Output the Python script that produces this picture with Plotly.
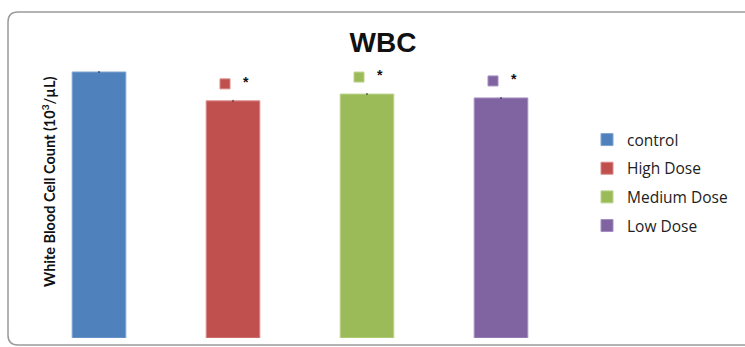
import plotly.graph_objects as go

groups = ["control", "High Dose", "Medium Dose", "Low Dose"]
wbc = [8.2, 7.31, 7.52, 7.40]
err = [0.03, 0.03, 0.03, 0.03]
significant = [False, True, True, True]
colors = ["#4F81BD", "#C0504D", "#9BBB59", "#8064A2"]
edge = ["#7FA3D1", "#D98A88", "#BCD48E", "#A58FC0"]

W, H = 745, 347
L, R, T, B = 32, 177, 60, 9
pw, ph = W - L - R, H - T - B
ymax = 8.57
ppu = ph / ymax  # pixels per unit

fig = go.Figure()
for i, (g, v) in enumerate(zip(groups, wbc)):
    fig.add_trace(go.Bar(
        x=[i], y=[v], name=g, width=0.4,
        marker=dict(color=colors[i], line=dict(color=edge[i], width=1)),
        error_y=dict(type="data", array=[err[i]], visible=True, color="#222", thickness=1, width=0),
        legendgroup=g,
    ))

# significance markers
for i, (v, s) in enumerate(zip(wbc, significant)):
    if not s:
        continue
    fig.add_trace(go.Scatter(
        x=[i - 8 / 134], y=[v + 17 / ppu], mode="markers",
        marker=dict(symbol="square", size=10, color=colors[i], line=dict(color=edge[i], width=1)),
        showlegend=False, hoverinfo="skip"))
    fig.add_annotation(x=i + 12.5 / 134, y=v + 19 / ppu, text="<b>*</b>", showarrow=False,
                       font=dict(size=14, color="#111", family="Liberation Sans"))

# frame
def px(x):
    return (x - L) / pw
def py(y):
    return (H - B - y) / ph
x0, x1, y0, y1 = 8, 760, 12, 345
r = 10
path = (f"M {px(x0+r)},{py(y0)} L {px(x1)},{py(y0)} "
        f"M {px(x0+r)},{py(y0)} Q {px(x0)},{py(y0)} {px(x0)},{py(y0+r)} "
        f"L {px(x0)},{py(y1-r)} Q {px(x0)},{py(y1)} {px(x0+r)},{py(y1)} L {px(x1)},{py(y1)}")
fig.add_shape(type="path", xref="paper", yref="paper", path=path,
              line=dict(color="#9a9a9a", width=1.5), layer="below")

fig.add_annotation(xref="paper", yref="paper", x=px(48), y=py(182),
                   text="<b>White Blood Cell Count (10<sup>3</sup>/µL)</b>",
                   textangle=-90, showarrow=False, font=dict(size=14.5, color="#111", family="Lato"),
                   xanchor="center", yanchor="middle")

fig.update_layout(
    width=W, height=H,
    margin=dict(l=L, r=R, t=T, b=B, autoexpand=False),
    paper_bgcolor="white", plot_bgcolor="white",
    title=dict(text="<b>WBC</b>", x=(383) / W, xanchor="center", y=1 - 42 / H, yanchor="middle",
               font=dict(size=28, color="#111", family="Liberation Sans")),
    barmode="overlay",
    showlegend=True,
    legend=dict(x=px(587), xanchor="left", y=py(123), yanchor="top", font=dict(size=15.5, color="#222", family="Open Sans"),
                tracegroupgap=5.5, itemwidth=30, bgcolor="rgba(0,0,0,0)"),
    xaxis=dict(range=[-0.5, 3.5], visible=False),
    yaxis=dict(range=[0, ymax], visible=False),
)

fig.write_html("out.html")
